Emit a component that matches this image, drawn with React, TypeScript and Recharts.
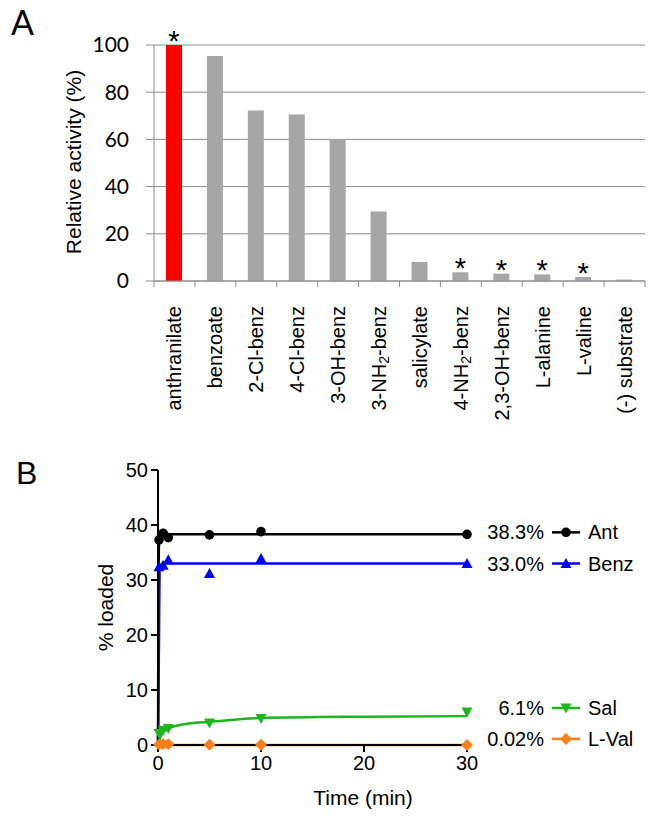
import React from 'react';
import {
  BarChart,
  Bar,
  XAxis,
  YAxis,
  CartesianGrid,
  Cell,
  LabelList,
  ComposedChart,
  Line,
} from 'recharts';

// ---------- Panel A data ----------
const substrates = [
  'anthranilate',
  'benzoate',
  '2-Cl-benz',
  '4-Cl-benz',
  '3-OH-benz',
  '3-NH₂-benz',
  'salicylate',
  '4-NH₂-benz',
  '2,3-OH-benz',
  'L-alanine',
  'L-valine',
  '(-) substrate',
];
const activity = [100, 95.3, 72.2, 70.5, 60.2, 29.4, 8.1, 3.7, 3.1, 2.8, 1.7, 0.6];
const significant = [true, false, false, false, false, false, false, true, true, true, true, false];
const activityTicks = [0, 20, 40, 60, 80, 100];

// ---------- Panel B data ----------
const timeTicks = [0, 10, 20, 30];
const loadedTicks = [0, 10, 20, 30, 40, 50];
const sampleTimes = [0.1, 0.5, 1, 5, 10, 30];
const antLoaded = [37.3, 38.5, 37.7, 38.2, 38.8, 38.3];
const benzLoaded = [32.4, 32.7, 33.7, 31.2, 33.9, 33.0];
const salLoaded = [2.1, 2.7, 3.0, 4.0, 4.8, 6.0];
const valLoaded = [0.1, 0.2, 0.15, 0.05, 0.05, 0.02];

const antFitT = [0, 0.05, 0.1, 0.2, 0.5, 30];
const antFitY = [0, 30, 36.5, 38.0, 38.3, 38.3];
const benzFitT = [0, 0.1, 0.15, 0.25, 0.5, 30];
const benzFitY = [0, 20, 31.5, 32.7, 33.0, 33.0];
const salFitT = [0, 0.25, 0.5, 1, 2, 3, 5, 10, 20, 30];
const salFitY = [0, 1.5, 2.3, 3.0, 3.6, 3.9, 4.2, 4.9, 5.15, 5.25];
const valFitT = [0, 30];
const valFitY = [0.02, 0.02];

const seriesNames = ['Ant', 'Benz', 'Sal', 'L-Val'];
const endLabels = ['38.3%', '33.0%', '6.1%', '0.02%'];

// ---------- styles ----------
const GRID = '#8c8c8c';
const RED = '#ff0000';
const GRAY = '#a6a6a6';
const ARIAL = '"Liberation Sans", Arial, sans-serif';
const CAL = 'Lato, "Open Sans", sans-serif';

const barData = substrates.map((name, i) => ({
  name,
  activity: activity[i],
  star: significant[i] ? '*' : '',
}));

const zip = (ts: number[], ys: number[]) => ts.map((t, i) => ({ t, y: ys[i] }));

const series = [
  { name: seriesNames[0], end: endLabels[0], color: '#000000', shape: 'circle', pts: zip(sampleTimes, antLoaded), fit: zip(antFitT, antFitY), dy: -2 },
  { name: seriesNames[1], end: endLabels[1], color: '#0000ff', shape: 'up', pts: zip(sampleTimes, benzLoaded), fit: zip(benzFitT, benzFitY), dy: 0 },
  { name: seriesNames[2], end: endLabels[2], color: '#1fb51f', shape: 'down', pts: zip(sampleTimes, salLoaded), fit: zip(salFitT, salFitY), dy: -4 },
  { name: seriesNames[3], end: endLabels[3], color: '#f7801a', shape: 'diamond', pts: zip(sampleTimes, valLoaded), fit: zip(valFitT, valFitY), dy: -6 },
];

const Marker = ({ shape, cx, cy, color }: any) => {
  if (shape === 'circle') return <circle cx={cx} cy={cy} r={4.8} fill={color} />;
  if (shape === 'up')
    return <polygon points={`${cx},${cy - 5.5} ${cx + 5.5},${cy + 4.5} ${cx - 5.5},${cy + 4.5}`} fill={color} />;
  if (shape === 'down')
    return <polygon points={`${cx},${cy + 5.5} ${cx + 5.5},${cy - 4.5} ${cx - 5.5},${cy - 4.5}`} fill={color} />;
  return <polygon points={`${cx},${cy - 6} ${cx + 6},${cy} ${cx},${cy + 6} ${cx - 6},${cy}`} fill={color} />;
};

const CatTick = (props: any) => {
  const { x, y, payload, index, visibleTicksCount } = props;
  const count = visibleTicksCount || substrates.length;
  const bw = (props.width && props.width > 100 ? props.width : 491) / count;
  const parts = String(payload.value).split('₂');
  return (
    <g>
      <line x1={x - bw / 2} x2={x - bw / 2} y1={y} y2={y + 6} stroke={GRID} strokeWidth={1} />
      {index === count - 1 && (
        <line x1={x + bw / 2} x2={x + bw / 2} y1={y} y2={y + 6} stroke={GRID} strokeWidth={1} />
      )}
      <text
        transform={`translate(${x},${y + 25}) rotate(-90)`}
        textAnchor="end"
        dominantBaseline="central"
        fontSize={20}
        fontFamily={ARIAL}
        fill="#000"
      >
        {parts.length > 1 ? (
          <>
            {parts[0]}
            <tspan dy={5} fontSize={14}>2</tspan>
            <tspan dy={-5}>{parts[1]}</tspan>
          </>
        ) : (
          parts[0]
        )}
      </text>
    </g>
  );
};

const StarLabel = (p: any) => {
  if (!p.value) return null;
  return (
    <text x={p.x + p.width / 2} y={p.y + 6} textAnchor="middle" fontSize={29} fontFamily={ARIAL} fill="#000">
      {p.value}
    </text>
  );
};

export default function App() {
  return (
    <div style={{ position: 'absolute', left: 0, top: 0, width: 660, height: 816, background: '#fff' }}>
      <svg width={660} height={816} style={{ position: 'absolute', left: 0, top: 0 }}>
        <text x={11} y={35} fontSize={34} fontFamily={CAL} fill="#000">A</text>
        <text x={16} y={484} fontSize={32} fontFamily={ARIAL} fill="#000">B</text>
      </svg>

      <div style={{ position: 'absolute', left: 0, top: 0 }}>
        <BarChart width={660} height={450} data={barData} margin={{ top: 45, right: 15, bottom: 0, left: 0 }} barCategoryGap={0}>
          <CartesianGrid vertical={false} stroke={GRID} strokeWidth={1} />
          <XAxis
            dataKey="name"
            interval={0}
            height={169}
            tickLine={false}
            tickSize={0}
            tickMargin={0}
            axisLine={{ stroke: GRID, strokeWidth: 1 }}
            tick={<CatTick />}
          />
          <YAxis
            domain={[0, 100]}
            ticks={activityTicks}
            width={154}
            axisLine={{ stroke: GRID, strokeWidth: 1 }}
            tickLine={{ stroke: GRID, strokeWidth: 1 }}
            tickSize={8}
            tickMargin={17}
            tick={{ fontSize: 21, fontFamily: CAL, fill: '#000' }}
            label={{
              content: (p: any) => {
                const vb = p.viewBox || { x: 0, y: 45, width: 154, height: 236 };
                const cx = vb.x + 73;
                const cy = vb.y + vb.height / 2 - 1;
                return (
                  <text
                    transform={`translate(${cx},${cy}) rotate(-90)`}
                    textAnchor="middle"
                    dominantBaseline="central"
                    fontSize={21}
                    fontFamily={ARIAL}
                    fill="#000"
                  >
                    Relative activity (%)
                  </text>
                );
              },
            }}
          />
          <Bar dataKey="activity" barSize={16} isAnimationActive={false}>
            {barData.map((d, i) => (
              <Cell key={d.name} fill={i === 0 ? RED : GRAY} />
            ))}
            <LabelList dataKey="star" content={<StarLabel />} />
          </Bar>
        </BarChart>
      </div>

      <div style={{ position: 'absolute', left: 0, top: 450 }}>
        <ComposedChart width={660} height={366} margin={{ top: 20, right: 193, bottom: 0, left: 0 }}>
          <XAxis
            type="number"
            dataKey="t"
            domain={[0, 30]}
            ticks={timeTicks}
            height={71}
            axisLine={{ stroke: '#000', strokeWidth: 2 }}
            tickLine={{ stroke: '#000', strokeWidth: 2 }}
            tickSize={7}
            tickMargin={4}
            tick={{ fontSize: 20, fontFamily: ARIAL, fill: '#000' }}
            label={{
              content: (p: any) => {
                const vb = p.viewBox || { x: 158, y: 295, width: 309, height: 71 };
                return (
                  <text
                    x={vb.x + 205}
                    y={vb.y + 52}
                    textAnchor="middle"
                    dominantBaseline="central"
                    fontSize={21}
                    fontFamily={ARIAL}
                    fill="#000"
                  >
                    Time (min)
                  </text>
                );
              },
            }}
          />
          <YAxis
            type="number"
            domain={[0, 50]}
            ticks={loadedTicks}
            width={158}
            axisLine={{ stroke: '#000', strokeWidth: 2 }}
            tickLine={{ stroke: '#000', strokeWidth: 2 }}
            tickSize={7}
            tickMargin={3}
            tick={{ fontSize: 20, fontFamily: ARIAL, fill: '#000' }}
            label={{
              content: (p: any) => {
                const vb = p.viewBox || { x: 0, y: 20, width: 158, height: 275 };
                const cx = vb.x + 105;
                const cy = vb.y + vb.height / 2;
                return (
                  <text
                    transform={`translate(${cx},${cy}) rotate(-90)`}
                    textAnchor="middle"
                    dominantBaseline="central"
                    fontSize={21}
                    fontFamily={ARIAL}
                    fill="#000"
                  >
                    % loaded
                  </text>
                );
              },
            }}
          />
          {series.flatMap((s) => [
            <Line
              key={s.name + '-fit'}
              data={s.fit}
              dataKey="y"
              type="monotone"
              stroke={s.color}
              strokeWidth={2.5}
              dot={false}
              activeDot={false}
              isAnimationActive={false}
            />,
            <Line
              key={s.name + '-pts'}
              data={s.pts}
              dataKey="y"
              stroke="none"
              strokeWidth={0}
              activeDot={false}
              isAnimationActive={false}
              dot={(p: any) => <Marker key={`${s.name}-${p.index}`} shape={s.shape} cx={p.cx} cy={p.cy} color={s.color} />}
            >
              <LabelList
                dataKey="y"
                content={(p: any) => {
                  if (p.index !== s.pts.length - 1) return null;
                  const x = p.x ?? p.viewBox?.x;
                  const y0 = p.y ?? p.viewBox?.y;
                  const y = y0 + s.dy;
                  return (
                    <g>
                      <text x={x + 77} y={y} textAnchor="end" dominantBaseline="central" fontSize={20} fontFamily={ARIAL} fill="#000">
                        {s.end}
                      </text>
                      <line x1={x + 85} x2={x + 113} y1={y} y2={y} stroke={s.color} strokeWidth={2.5} />
                      <Marker shape={s.shape} cx={x + 99} cy={y} color={s.color} />
                      <text x={x + 121} y={y} textAnchor="start" dominantBaseline="central" fontSize={20} fontFamily={ARIAL} fill="#000">
                        {s.name}
                      </text>
                    </g>
                  );
                }}
              />
            </Line>,
          ])}
        </ComposedChart>
      </div>
    </div>
  );
}
